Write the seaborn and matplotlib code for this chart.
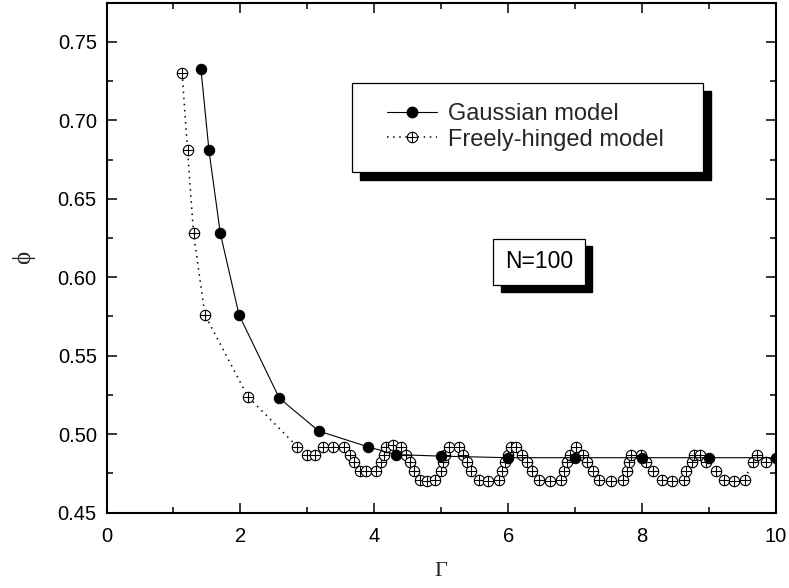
import numpy as np
import seaborn as sns
import matplotlib
matplotlib.use("Agg")
import matplotlib.pyplot as plt
from matplotlib.path import Path
from matplotlib.lines import Line2D
from matplotlib.patches import Rectangle
from matplotlib.ticker import MultipleLocator, FormatStrFormatter
import matplotlib.transforms as mtransforms

# Packing fraction phi versus Gamma, N=100
gauss_gamma = [1.41, 1.53, 1.70, 1.98, 2.58, 3.17, 3.90, 4.32, 5.0, 6.0, 7.0, 8.0, 9.0, 10.0]
gauss_phi = [0.733, 0.681, 0.628, 0.576, 0.523, 0.502, 0.492, 0.487, 0.486,
             0.485, 0.485, 0.485, 0.485, 0.485]

hinge_gamma = [1.13, 1.21, 1.30, 1.47, 2.11, 2.85, 3.00, 3.11, 3.24, 3.38, 3.55,
               3.63, 3.70, 3.78, 3.88, 4.03, 4.10, 4.14, 4.18, 4.28, 4.40, 4.47,
               4.53, 4.60, 4.68, 4.78, 4.91, 4.99, 5.03, 5.06, 5.12, 5.26, 5.33,
               5.39, 5.45, 5.56, 5.70, 5.86, 5.91, 5.95, 5.99, 6.04, 6.11, 6.21,
               6.28, 6.36, 6.46, 6.62, 6.79, 6.83, 6.88, 6.92, 7.01, 7.11, 7.18,
               7.26, 7.36, 7.53, 7.71, 7.77, 7.81, 7.84, 7.98, 8.06, 8.17, 8.29,
               8.44, 8.62, 8.65, 8.74, 8.78, 8.87, 8.95, 9.10, 9.22, 9.38, 9.53,
               9.65, 9.72, 9.85]
hinge_phi = [0.730, 0.681, 0.628, 0.576, 0.524, 0.492, 0.487, 0.487, 0.492, 0.492, 0.492,
             0.487, 0.482, 0.4765, 0.4765, 0.4765, 0.482, 0.487, 0.492, 0.493, 0.492, 0.487,
             0.482, 0.4765, 0.471, 0.470, 0.471, 0.4765, 0.482, 0.487, 0.492, 0.492, 0.487,
             0.482, 0.4765, 0.471, 0.470, 0.471, 0.4765, 0.482, 0.487, 0.492, 0.492, 0.487,
             0.482, 0.4765, 0.471, 0.470, 0.471, 0.4765, 0.482, 0.487, 0.492, 0.487, 0.482,
             0.4765, 0.471, 0.470, 0.471, 0.4765, 0.482, 0.487, 0.487, 0.482, 0.4765, 0.471,
             0.470, 0.471, 0.4765, 0.482, 0.487, 0.487, 0.482, 0.4765, 0.471, 0.470, 0.471,
             0.482, 0.487, 0.482]

series_labels = ["Gaussian model", "Freely-hinged model"]
x_ticks = [0, 2, 4, 6, 8, 10]
y_ticks = [0.45, 0.50, 0.55, 0.60, 0.65, 0.70, 0.75]
note_text = "N=100"

sns.set_style("ticks")
plt.rcParams["font.family"] = ["Liberation Sans", "DejaVu Sans"]

# circle-with-cross marker
circ = Path.unit_circle()
oplus = Path(
    np.concatenate([circ.vertices, [[-1, 0], [1, 0], [0, -1], [0, 1]]]),
    np.concatenate([circ.codes, [Path.MOVETO, Path.LINETO, Path.MOVETO, Path.LINETO]]),
)

fig = plt.figure(figsize=(7.89, 5.88), dpi=100)
ax = fig.add_axes([0.135, 0.1282, 0.8485, 0.8672])

dotted = (0, (1, 3))
hinge_style = dict(color="black", linestyle=dotted, linewidth=1.1, marker=oplus,
                   markersize=7.5, markerfacecolor="white", markeredgecolor="black",
                   markeredgewidth=0.8)
gauss_style = dict(color="black", linestyle="-", linewidth=0.8, marker="o",
                   markersize=7.5, markerfacecolor="black", markeredgecolor="black")

sns.lineplot(x=hinge_gamma, y=hinge_phi, ax=ax, sort=False, estimator=None,
             zorder=2, **hinge_style)
sns.lineplot(x=gauss_gamma, y=gauss_phi, ax=ax, sort=False, estimator=None,
             zorder=3, **gauss_style)

ax.set_xlim(0, 10)
ax.set_ylim(0.45, 0.775)
ax.set_xticks(x_ticks)
ax.set_yticks(y_ticks)
ax.xaxis.set_minor_locator(MultipleLocator(1))
ax.yaxis.set_minor_locator(MultipleLocator(0.025))
ax.yaxis.set_major_formatter(FormatStrFormatter("%.2f"))
ax.xaxis.set_major_formatter(FormatStrFormatter("%d"))
ax.tick_params(which="both", direction="in", top=True, right=True, width=1.1,
               colors="black", labelsize=14.5)
ax.tick_params(which="major", length=7, pad=7)
ax.tick_params(axis="x", which="major", pad=10)
ax.tick_params(which="minor", length=4)
for sp in ax.spines.values():
    sp.set_visible(True)
    sp.set_linewidth(1.5)
    sp.set_color("black")

ax.set_xlabel("Γ", family=["Liberation Serif", "DejaVu Serif"], fontsize=16, labelpad=12)
ax.set_ylabel("ϕ", family=["Liberation Serif", "DejaVu Serif"], fontsize=18, labelpad=16)

# legend with a drop-shadowed frame
shadow_tr = mtransforms.offset_copy(ax.transAxes, fig=fig, x=5.8, y=-5.8, units="points")
ax.add_patch(Rectangle((0.3667, 0.668), 0.5243, 0.1745, transform=shadow_tr,
                       facecolor="black", edgecolor="black", zorder=4))
ax.add_patch(Rectangle((0.3667, 0.668), 0.5243, 0.1745, transform=ax.transAxes,
                       facecolor="white", edgecolor="black", linewidth=0.9, zorder=4.1))
handles = [Line2D([], [], **gauss_style), Line2D([], [], **hinge_style)]
leg = ax.legend(handles, series_labels, loc="center left", bbox_to_anchor=(0.4185, 0.7564),
                frameon=False, fontsize=17, borderpad=0, borderaxespad=0,
                labelspacing=0.15, handlelength=2.15, handletextpad=0.45)
leg.set_zorder(5)

# annotation box, then a black offset copy of its frame behind it
note = ax.text(6.46, 0.610, note_text, ha="center", va="center", fontsize=16.5,
               color="black", zorder=4.1,
               bbox=dict(boxstyle="square,pad=0.5", facecolor="white",
                         edgecolor="black", linewidth=0.9))
fig.canvas.draw()
bb = note.get_bbox_patch().get_window_extent()
off = 7.5
fig_w, fig_h = fig.bbox.width, fig.bbox.height
ax.add_patch(Rectangle(((bb.x0 + off) / fig_w, (bb.y0 - off) / fig_h),
                       bb.width / fig_w, bb.height / fig_h,
                       transform=fig.transFigure, facecolor="black",
                       edgecolor="black", zorder=4))

fig.savefig("out.png", dpi=100)
